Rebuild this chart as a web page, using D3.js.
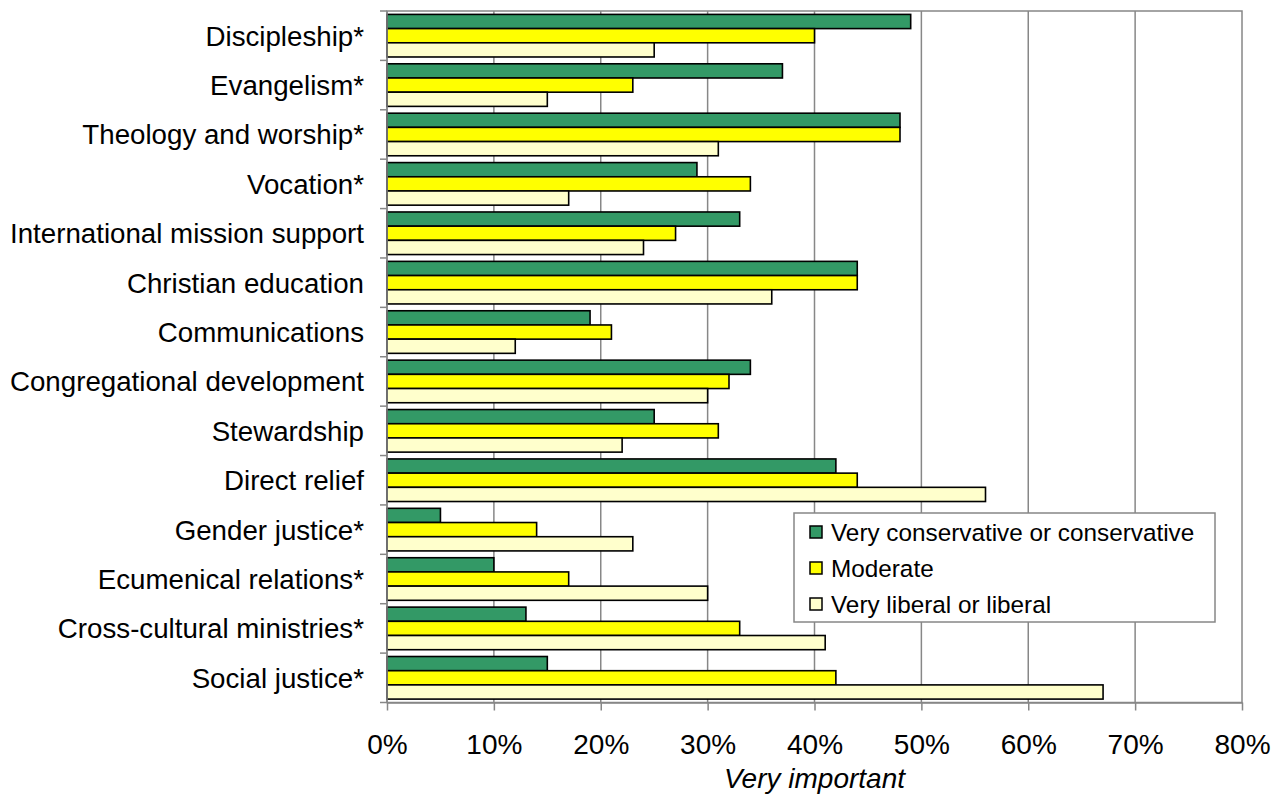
<!DOCTYPE html>
<html>
<head>
<meta charset="utf-8">
<script src="https://cdn.jsdelivr.net/npm/d3@7"></script>
<style>
  html, body { margin: 0; padding: 0; background: #fff; }
  svg { display: block; font-family: Arial, "Liberation Sans", sans-serif; }
</style>
</head>
<body>
<svg id="chart" width="1285" height="795"></svg>
<script>
// Ministry areas rated "very important", by political self-identification
const categories = [
  "Discipleship*", "Evangelism*", "Theology and worship*", "Vocation*",
  "International mission support", "Christian education", "Communications",
  "Congregational development", "Stewardship", "Direct relief",
  "Gender justice*", "Ecumenical relations*", "Cross-cultural ministries*",
  "Social justice*"
];
const seriesNames = ["Very conservative or conservative", "Moderate", "Very liberal or liberal"];
const conservative = [49, 37, 48, 29, 33, 44, 19, 34, 25, 42, 5, 10, 13, 15];
const moderate     = [40, 23, 48, 34, 27, 44, 21, 32, 31, 44, 14, 17, 33, 42];
const liberal      = [25, 15, 31, 17, 24, 36, 12, 30, 22, 56, 23, 30, 41, 67];
const xTicks = [0, 10, 20, 30, 40, 50, 60, 70, 80];
const axisTitle = "Very important";
const colors = ["#339966", "#ffff00", "#ffffcc"];

const series = [conservative, moderate, liberal];

const svg = d3.select("#chart");
const plot = { left: 387, right: 1242, top: 11, bottom: 702.5 };

const x = d3.scaleLinear().domain([0, 80]).range([plot.left, plot.right]);
const y = d3.scaleBand().domain(categories).range([plot.top, plot.bottom]).paddingInner(0).paddingOuter(0);
const inner = d3.scaleBand().domain(d3.range(series.length))
  .range([0, y.bandwidth()]).paddingOuter(0.24).paddingInner(0);

const grid = "#878787";

// plot frame
svg.append("rect")
  .attr("x", plot.left).attr("y", plot.top)
  .attr("width", plot.right - plot.left).attr("height", plot.bottom - plot.top)
  .attr("fill", "#fff").attr("stroke", grid).attr("stroke-width", 1.5);

// vertical gridlines
svg.append("g").selectAll("line")
  .data(xTicks.filter(t => t > 0 && t < 80))
  .join("line")
  .attr("x1", d => x(d)).attr("x2", d => x(d))
  .attr("y1", plot.top).attr("y2", plot.bottom)
  .attr("stroke", grid).attr("stroke-width", 1.5);

// bars
const groups = svg.append("g").selectAll("g")
  .data(categories)
  .join("g")
  .attr("transform", d => `translate(0,${y(d)})`);

groups.selectAll("rect")
  .data((c, i) => series.map((s, k) => ({ k, v: s[i] })))
  .join("rect")
  .attr("x", x(0))
  .attr("y", d => inner(d.k))
  .attr("width", d => x(d.v) - x(0))
  .attr("height", inner.bandwidth())
  .attr("fill", d => colors[d.k])
  .attr("stroke", "#000")
  .attr("stroke-width", 1.6);

// x axis
const xAxis = d3.axisBottom(x).tickValues(xTicks).tickFormat(d => d + "%").tickSizeInner(8).tickSizeOuter(0).tickPadding(24);
const gx = svg.append("g").attr("transform", `translate(0,${plot.bottom})`).call(xAxis);
gx.select(".domain").attr("stroke", grid).attr("stroke-width", 1.5);
gx.selectAll(".tick line").attr("stroke", grid).attr("stroke-width", 1.5);
gx.selectAll(".tick text").attr("font-size", 28).attr("fill", "#000")
  .attr("font-family", "Arial, 'Liberation Sans', sans-serif");

// y axis: ticks at band boundaries, labels at band centres
const gy = svg.append("g");
gy.append("line")
  .attr("x1", plot.left).attr("x2", plot.left)
  .attr("y1", plot.top).attr("y2", plot.bottom)
  .attr("stroke", grid).attr("stroke-width", 1.5);
gy.selectAll("line.tk")
  .data(d3.range(categories.length + 1))
  .join("line").attr("class", "tk")
  .attr("x1", plot.left - 7).attr("x2", plot.left)
  .attr("y1", i => plot.top + i * y.step()).attr("y2", i => plot.top + i * y.step())
  .attr("stroke", grid).attr("stroke-width", 1.5);
gy.selectAll("text")
  .data(categories)
  .join("text")
  .attr("x", 364)
  .attr("y", d => y(d) + y.bandwidth() / 2)
  .attr("dy", "0.36em")
  .attr("text-anchor", "end")
  .attr("font-size", 27.7)
  .attr("fill", "#000")
  .text(d => d);

// axis title
svg.append("text")
  .attr("x", (plot.left + plot.right) / 2)
  .attr("y", 788)
  .attr("text-anchor", "middle")
  .attr("font-size", 28)
  .attr("font-style", "italic")
  .attr("fill", "#000")
  .text(axisTitle);

// legend
const legend = svg.append("g").attr("transform", "translate(794,513)");
legend.append("rect")
  .attr("width", 421).attr("height", 109)
  .attr("fill", "#fff").attr("stroke", grid).attr("stroke-width", 1.5);
const items = legend.selectAll("g.item")
  .data(seriesNames)
  .join("g").attr("class", "item")
  .attr("transform", (d, i) => `translate(16,${13 + i * 36})`);
items.append("rect")
  .attr("width", 12).attr("height", 12)
  .attr("fill", (d, i) => colors[i])
  .attr("stroke", "#000").attr("stroke-width", 1.5);
items.append("text")
  .attr("x", 21).attr("y", 6)
  .attr("dy", "0.36em")
  .attr("font-size", 24.3)
  .attr("fill", "#000")
  .text(d => d);
</script>
</body>
</html>
